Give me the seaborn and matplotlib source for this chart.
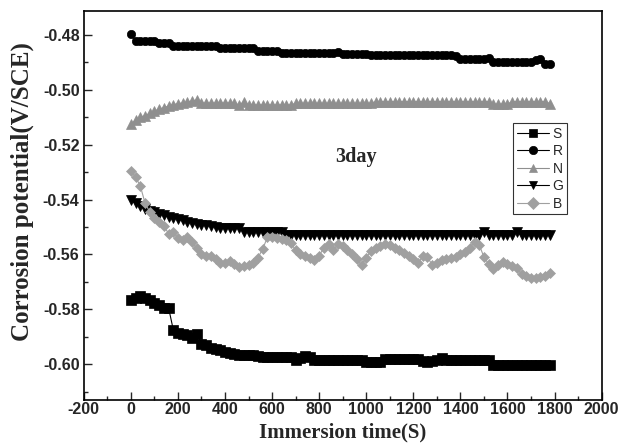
import matplotlib
matplotlib.use("Agg")
import matplotlib.pyplot as plt
import seaborn as sns
import pandas as pd

time_s = [0, 20, 40, 60, 80, 100, 120, 140, 160, 180,
          200, 220, 240, 260, 280, 300, 320, 340, 360, 380,
          400, 420, 440, 460, 480, 500, 520, 540, 560, 580,
          600, 620, 640, 660, 680, 700, 720, 740, 760, 780,
          800, 820, 840, 860, 880, 900, 920, 940, 960, 980,
          1000, 1020, 1040, 1060, 1080, 1100, 1120, 1140, 1160, 1180,
          1200, 1220, 1240, 1260, 1280, 1300, 1320, 1340, 1360, 1380,
          1400, 1420, 1440, 1460, 1480, 1500, 1520, 1540, 1560, 1580,
          1600, 1620, 1640, 1660, 1680, 1700, 1720, 1740, 1760, 1780]

S = [-0.5767, -0.5760, -0.5753, -0.5758, -0.5766, -0.5776, -0.5785, -0.5794, -0.5794, -0.5874,
     -0.5885, -0.5890, -0.5895, -0.5905, -0.5890, -0.5925, -0.5932, -0.5940, -0.5944, -0.5950,
     -0.5955, -0.5960, -0.5964, -0.5966, -0.5966, -0.5968, -0.5968, -0.5970, -0.5974, -0.5974,
     -0.5974, -0.5974, -0.5974, -0.5974, -0.5974, -0.5984, -0.5978, -0.5972, -0.5974, -0.5984,
     -0.5984, -0.5984, -0.5984, -0.5984, -0.5984, -0.5984, -0.5984, -0.5984, -0.5984, -0.5984,
     -0.5992, -0.5992, -0.5992, -0.5992, -0.5980, -0.5980, -0.5980, -0.5980, -0.5980, -0.5980,
     -0.5980, -0.5980, -0.5990, -0.5992, -0.5990, -0.5985, -0.5977, -0.5986, -0.5986, -0.5986,
     -0.5986, -0.5986, -0.5986, -0.5986, -0.5986, -0.5986, -0.5986, -0.6004, -0.6004, -0.6004,
     -0.6004, -0.6004, -0.6004, -0.6004, -0.6004, -0.6004, -0.6004, -0.6004, -0.6004, -0.6004]

R = [-0.4795, -0.4821, -0.4821, -0.4821, -0.4821, -0.4821, -0.4830, -0.4830, -0.4830, -0.4840,
     -0.4840, -0.4840, -0.4840, -0.4840, -0.4840, -0.4840, -0.4840, -0.4840, -0.4840, -0.4849,
     -0.4849, -0.4849, -0.4849, -0.4849, -0.4849, -0.4849, -0.4849, -0.4858, -0.4858, -0.4858,
     -0.4858, -0.4858, -0.4867, -0.4867, -0.4867, -0.4867, -0.4867, -0.4867, -0.4867, -0.4867,
     -0.4867, -0.4867, -0.4867, -0.4867, -0.4862, -0.4868, -0.4868, -0.4868, -0.4868, -0.4870,
     -0.4870, -0.4872, -0.4872, -0.4872, -0.4872, -0.4872, -0.4872, -0.4872, -0.4872, -0.4872,
     -0.4872, -0.4872, -0.4872, -0.4872, -0.4872, -0.4872, -0.4872, -0.4872, -0.4872, -0.4875,
     -0.4889, -0.4889, -0.4889, -0.4889, -0.4889, -0.4889, -0.4882, -0.4897, -0.4897, -0.4897,
     -0.4897, -0.4897, -0.4897, -0.4897, -0.4897, -0.4897, -0.4890, -0.4888, -0.4907, -0.4907]

N = [-0.5126, -0.5110, -0.5100, -0.5094, -0.5086, -0.5078, -0.5070, -0.5065, -0.5059, -0.5054,
     -0.5050, -0.5048, -0.5045, -0.5040, -0.5037, -0.5048, -0.5048, -0.5048, -0.5048, -0.5048,
     -0.5048, -0.5048, -0.5048, -0.5056, -0.5043, -0.5055, -0.5055, -0.5055, -0.5055, -0.5055,
     -0.5055, -0.5055, -0.5055, -0.5055, -0.5055, -0.5049, -0.5049, -0.5049, -0.5049, -0.5049,
     -0.5049, -0.5049, -0.5049, -0.5049, -0.5049, -0.5049, -0.5049, -0.5049, -0.5049, -0.5049,
     -0.5049, -0.5049, -0.5043, -0.5043, -0.5043, -0.5043, -0.5043, -0.5043, -0.5043, -0.5043,
     -0.5043, -0.5043, -0.5043, -0.5043, -0.5043, -0.5043, -0.5043, -0.5043, -0.5043, -0.5043,
     -0.5043, -0.5043, -0.5043, -0.5043, -0.5043, -0.5043, -0.5043, -0.5052, -0.5052, -0.5052,
     -0.5052, -0.5043, -0.5043, -0.5043, -0.5043, -0.5043, -0.5043, -0.5043, -0.5043, -0.5050]

G = [-0.5402, -0.5414, -0.5425, -0.5433, -0.5440, -0.5447, -0.5452, -0.5457, -0.5462, -0.5467,
     -0.5471, -0.5476, -0.5480, -0.5484, -0.5488, -0.5491, -0.5494, -0.5497, -0.5500, -0.5505,
     -0.5505, -0.5505, -0.5505, -0.5505, -0.5517, -0.5517, -0.5517, -0.5517, -0.5517, -0.5517,
     -0.5517, -0.5517, -0.5517, -0.5530, -0.5530, -0.5530, -0.5530, -0.5530, -0.5530, -0.5530,
     -0.5530, -0.5530, -0.5530, -0.5530, -0.5530, -0.5530, -0.5530, -0.5530, -0.5530, -0.5530,
     -0.5530, -0.5530, -0.5530, -0.5530, -0.5530, -0.5530, -0.5530, -0.5530, -0.5530, -0.5530,
     -0.5530, -0.5530, -0.5530, -0.5530, -0.5530, -0.5530, -0.5530, -0.5530, -0.5530, -0.5530,
     -0.5530, -0.5530, -0.5530, -0.5530, -0.5530, -0.5518, -0.5530, -0.5530, -0.5530, -0.5530,
     -0.5530, -0.5530, -0.5518, -0.5530, -0.5530, -0.5530, -0.5530, -0.5530, -0.5530, -0.5530]

B = [-0.5295, -0.5318, -0.5350, -0.5412, -0.5445, -0.5466, -0.5480, -0.5495, -0.5524, -0.5518,
     -0.5540, -0.5546, -0.5536, -0.5555, -0.5578, -0.5600, -0.5607, -0.5605, -0.5615, -0.5630,
     -0.5632, -0.5625, -0.5635, -0.5646, -0.5642, -0.5640, -0.5633, -0.5612, -0.5580, -0.5538,
     -0.5536, -0.5540, -0.5542, -0.5548, -0.5558, -0.5585, -0.5600, -0.5605, -0.5612, -0.5620,
     -0.5605, -0.5575, -0.5562, -0.5585, -0.5562, -0.5570, -0.5585, -0.5600, -0.5618, -0.5638,
     -0.5612, -0.5586, -0.5578, -0.5570, -0.5562, -0.5565, -0.5575, -0.5585, -0.5595, -0.5605,
     -0.5615, -0.5632, -0.5607, -0.5610, -0.5638, -0.5632, -0.5622, -0.5618, -0.5614, -0.5609,
     -0.5600, -0.5592, -0.5575, -0.5555, -0.5565, -0.5610, -0.5635, -0.5652, -0.5640, -0.5628,
     -0.5635, -0.5643, -0.5650, -0.5672, -0.5680, -0.5686, -0.5686, -0.5683, -0.5678, -0.5668]

series_names = ["S", "R", "N", "G", "B"]
series_values = [S, R, N, G, B]
x_ticks = [-200, 0, 200, 400, 600, 800, 1000, 1200, 1400, 1600, 1800, 2000]
y_ticks = [-0.60, -0.58, -0.56, -0.54, -0.52, -0.50, -0.48]

styles = {
    "S": dict(color="#000000", marker="s", ms=6.5),
    "R": dict(color="#000000", marker="o", ms=6.0),
    "N": dict(color="#8f8f8f", marker="^", ms=6.5),
    "G": dict(color="#000000", marker="v", ms=6.5),
    "B": dict(color="#a0a0a0", marker="D", ms=5.5),
}

sns.set_style("ticks")
plt.rcParams["font.family"] = ["Liberation Sans", "DejaVu Sans"]

fig = plt.figure(figsize=(6.30, 4.43), dpi=100)
ax = fig.add_axes([0.133, 0.097, 0.822, 0.879])

for name, vals in zip(series_names, series_values):
    st = styles[name]
    df = pd.DataFrame({"t": time_s, "v": vals})
    sns.lineplot(data=df, x="t", y="v", ax=ax, color=st["color"], linewidth=0.8,
                 marker=st["marker"], markersize=st["ms"], markeredgecolor=st["color"],
                 markerfacecolor=st["color"], markeredgewidth=0.5, label=name,
                 errorbar=None)

ax.set_xlim(-200, 2000)
ax.set_ylim(-0.6131, -0.4711)
ax.set_xticks(x_ticks)
ax.set_yticks(y_ticks)
ax.set_xticklabels([str(v) for v in x_ticks])
ax.set_yticklabels([f"{v:.2f}" for v in y_ticks])
ax.set_xticks([v + 100 for v in x_ticks[:-1]], minor=True)
ax.set_yticks([v + 0.01 for v in y_ticks[:-1]] + [-0.61], minor=True)

ax.tick_params(axis="y", which="major", direction="in", length=6, width=1.0,
               right=False, labelsize=11.5, pad=3)
ax.tick_params(axis="x", which="major", direction="in", length=6, width=1.0,
               top=False, labelsize=11.5, pad=1.5)
ax.tick_params(which="minor", direction="in", length=3, width=1.0, top=False, right=False)
for lab in ax.get_xticklabels() + ax.get_yticklabels():
    lab.set_fontweight("bold")

for sp in ax.spines.values():
    sp.set_visible(True)
    sp.set_linewidth(1.2)
    sp.set_color("black")

ax.set_xlabel("Immersion time(S)", family=["Liberation Serif", "DejaVu Serif"],
              fontweight="bold", fontsize=15)
ax.set_ylabel("Corrosion potential(V/SCE)", family=["Liberation Serif", "DejaVu Serif"],
              fontweight="bold", fontsize=18)
ax.xaxis.set_label_coords(0.5, -0.058)
ax.yaxis.set_label_coords(-0.097, 0.535)

ax.text(955, -0.5245, "3day", family=["Liberation Serif", "DejaVu Serif"],
        fontweight="bold", fontsize=14.5, ha="center", va="center")

leg = ax.legend(loc="upper left", bbox_to_anchor=(0.829, 0.711), frameon=True,
                fancybox=False, edgecolor="black", fontsize=10, handlelength=2.3,
                handletextpad=0.3, borderpad=0.25, labelspacing=0.25, borderaxespad=0)
leg.get_frame().set_linewidth(0.8)
for line in leg.get_lines():
    line.set_markersize(6)

fig.savefig("out.png", dpi=100)
